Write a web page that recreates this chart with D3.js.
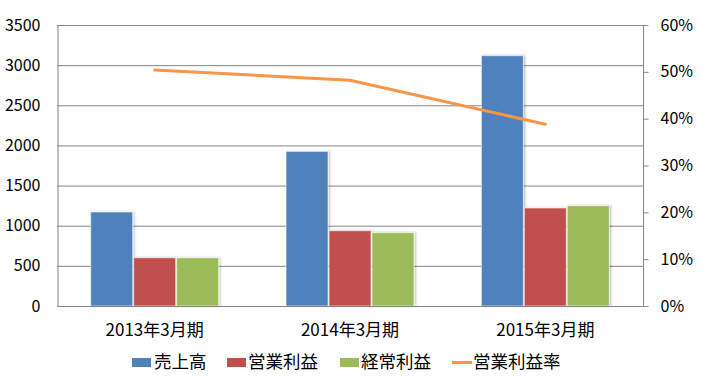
<!DOCTYPE html>
<html><head><meta charset="utf-8">
<script src="https://cdn.jsdelivr.net/npm/d3@7"></script>
<style>
html,body{margin:0;padding:0;background:#fff;}
text{font-family:"Noto Sans CJK JP","Noto Sans",sans-serif;fill:#000;}
</style></head>
<body><svg id="chart" width="702" height="382"></svg>
<script>
const categories = ["2013年3月期","2014年3月期","2015年3月期"];
const seriesNames = ["売上高","営業利益","経常利益"];
const sales = [1171, 1926, 3118];
const opProfit = [601, 938, 1221];
const ordProfit = [600, 913, 1249];
const opMargin = [0.504, 0.482, 0.388];
const lineName = "営業利益率";
const leftTicks = [0,500,1000,1500,2000,2500,3000,3500];
const rightTicks = [0,0.1,0.2,0.3,0.4,0.5,0.6];
const colors = ["#4F81BD","#C0504D","#9BBB59"];
const lineColor = "#F79646";

const svg = d3.select("#chart");
const L = 57, R = 643, T = 25, B = 306;
const x = d3.scaleBand().domain(categories).range([L,R]).paddingInner(0.34).paddingOuter(0.17);
const xs = d3.scaleBand().domain(seriesNames).range([0,x.bandwidth()]).padding(0);
const y = d3.scaleLinear().domain([0,3500]).range([B,T]);
const y2 = d3.scaleLinear().domain([0,0.6]).range([B,T]);

// gridlines
svg.append("g").selectAll("line").data(leftTicks.filter(d=>d>0)).join("line")
  .attr("x1",L).attr("x2",R).attr("y1",d=>y(d)+0.5).attr("y2",d=>y(d)+0.5)
  .attr("stroke","#868686").attr("stroke-width",1);

// left axis
const gl = svg.append("g").attr("transform",`translate(${L+0.5},0)`)
  .call(d3.axisLeft(y).tickValues(leftTicks).tickSize(0).tickPadding(17).tickFormat(d3.format("d")));
gl.select(".domain").attr("stroke","#868686");
gl.selectAll("text").style("font-size","16px").attr("fill","#000");

// right axis
const gr = svg.append("g").attr("transform",`translate(${R+0.5},0)`)
  .call(d3.axisRight(y2).tickValues(rightTicks).tickSize(5).tickPadding(12).tickFormat(d3.format(".0%")));
gr.select(".domain").attr("stroke","#868686").attr("d",`M0,${T}V${B}`);
gr.selectAll(".tick line").attr("stroke","#868686");
gr.selectAll("text").style("font-size","16px").attr("fill","#000");

// bars
const data = [sales, opProfit, ordProfit];
const defs = svg.append("defs");
const f = defs.append("filter").attr("id","sh").attr("x","-10%").attr("y","-10%").attr("width","130%").attr("height","130%");
f.append("feDropShadow").attr("dx",1.5).attr("dy",0).attr("stdDeviation",1).attr("flood-color","#000").attr("flood-opacity",0.25);

const gb = svg.append("g");
categories.forEach((c,i)=>{
  seriesNames.forEach((s,j)=>{
    gb.append("rect")
      .attr("x",x(c)+xs(s)+0.5)
      .attr("y",y(data[j][i]))
      .attr("width",xs.bandwidth()-1)
      .attr("height",B-y(data[j][i]))
      .attr("fill",colors[j])
      .attr("stroke","rgba(255,255,255,0.6)").attr("stroke-width",1)
      .attr("filter","url(#sh)");
  });
});

// x axis baseline
svg.append("line").attr("x1",L).attr("x2",R+5).attr("y1",B+0.5).attr("y2",B+0.5).attr("stroke","#868686");

// x labels
svg.append("g").selectAll("text").data(categories).join("text")
  .attr("x",d=>x(d)+x.bandwidth()/2).attr("y",336)
  .attr("text-anchor","middle").style("font-size","17px").text(d=>d);

// line
const line = d3.line().x((d,i)=>x(categories[i])+x.bandwidth()/2).y(d=>y2(d));
svg.append("path").datum(opMargin).attr("d",line).attr("fill","none")
  .attr("stroke",lineColor).attr("stroke-width",3).attr("stroke-linejoin","round").attr("stroke-linecap","round");

// legend
const lg = svg.append("g");
const legendItems = [
  {name:seriesNames[0], color:colors[0], type:"rect", sx:132, tx:154},
  {name:seriesNames[1], color:colors[1], type:"rect", sx:227, tx:248},
  {name:seriesNames[2], color:colors[2], type:"rect", sx:340, tx:361},
  {name:lineName, color:lineColor, type:"line", sx:452, tx:473}
];
legendItems.forEach(it=>{
  if(it.type==="rect"){
    lg.append("rect").attr("x",it.sx).attr("y",358).attr("width",19).attr("height",9).attr("fill",it.color);
  } else {
    lg.append("line").attr("x1",it.sx).attr("x2",it.sx+20).attr("y1",362.5).attr("y2",362.5)
      .attr("stroke",it.color).attr("stroke-width",3);
  }
  lg.append("text").attr("x",it.tx).attr("y",368).style("font-size","17.5px").text(it.name);
});
</script>
</body></html>
